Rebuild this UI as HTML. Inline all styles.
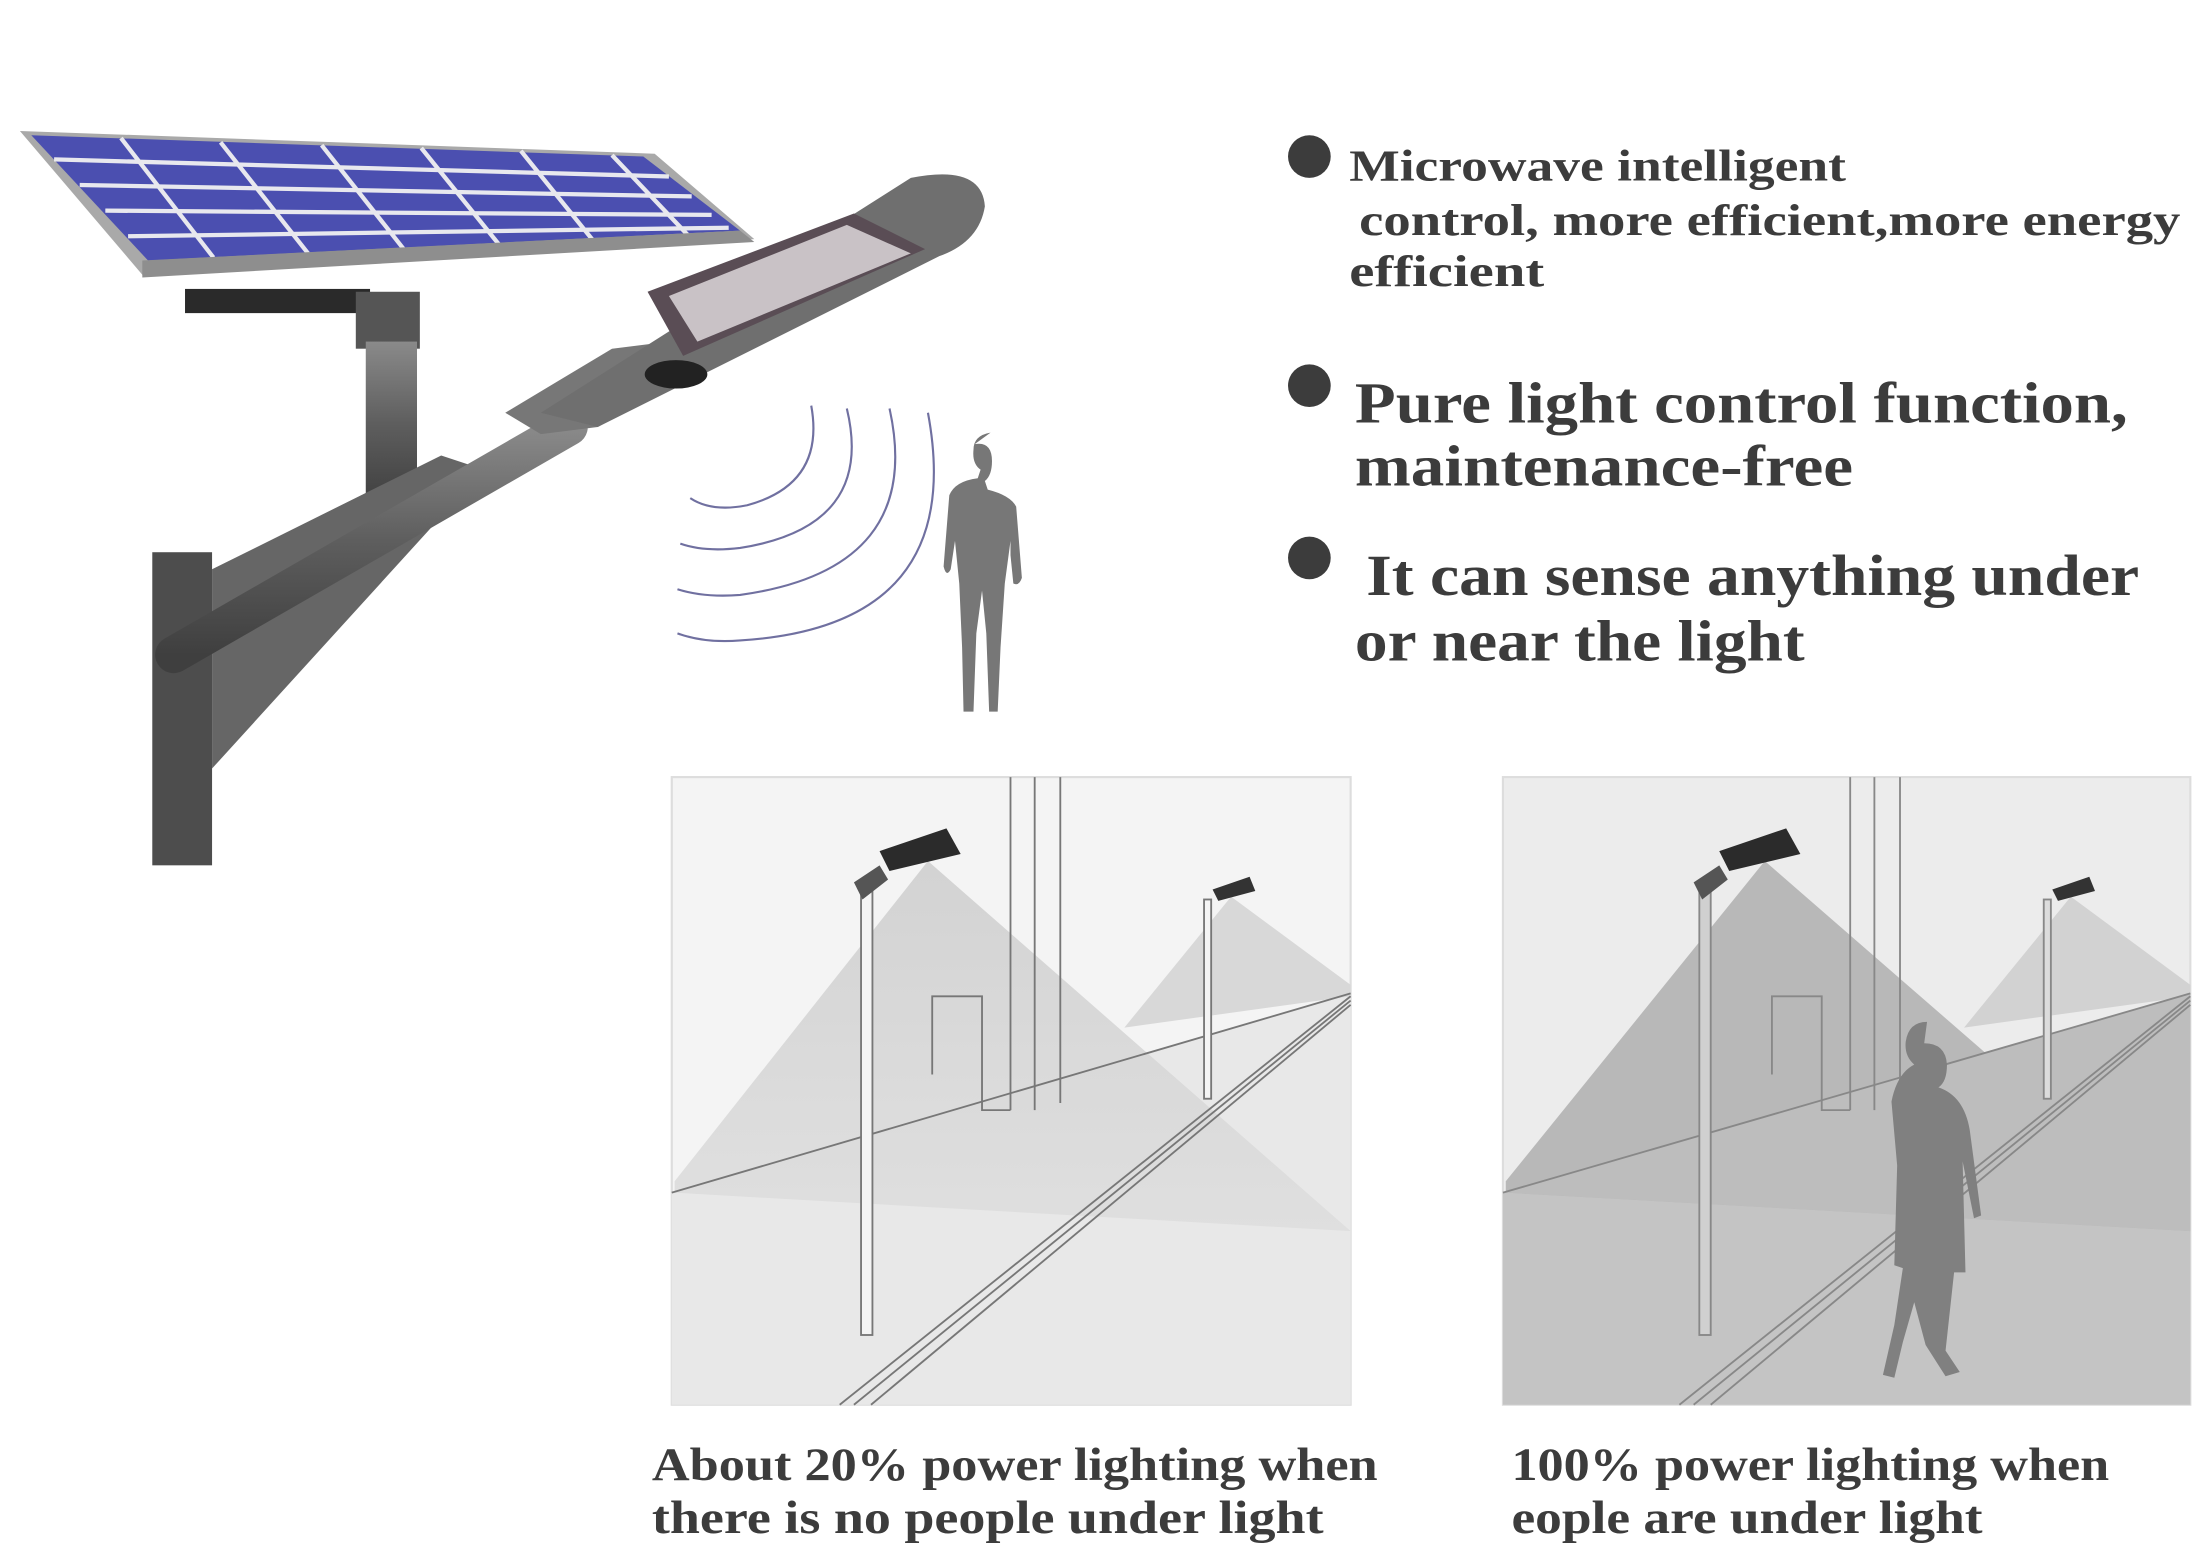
<!DOCTYPE html>
<html><head><meta charset="utf-8"><style>
html,body{margin:0;padding:0;background:#fff;}
svg{display:block;}
text{font-family:"Liberation Serif",serif;font-weight:bold;fill:#3c3c3c;}
</style></head><body>
<svg width="2206" height="1563" viewBox="0 0 1550 1098.2" xmlns="http://www.w3.org/2000/svg">
<defs>
<linearGradient id="pipe" x1="0" y1="0" x2="0" y2="1"><stop offset="0" stop-color="#8a8a8a"/><stop offset="0.5" stop-color="#5e5e5e"/><stop offset="1" stop-color="#3f3f3f"/></linearGradient>
<linearGradient id="cone1" x1="0" y1="0" x2="0" y2="1"><stop offset="0" stop-color="#cfcfcf"/><stop offset="1" stop-color="#dedede"/></linearGradient>
</defs>
<!-- solar panel -->
<polygon points="14,92 460,108 530,168 100,193" fill="#a9a9a9"/>
<polygon points="22,95 452,110 520,162 104,183" fill="#4b4fb0"/>
<g stroke="#e8e8ee" stroke-width="3">
<line x1="85" y1="97" x2="150" y2="181"/><line x1="155" y1="100" x2="218" y2="180"/><line x1="226" y1="102" x2="286" y2="178"/><line x1="296" y1="104" x2="354" y2="176"/><line x1="366" y1="106" x2="420" y2="173"/><line x1="430" y1="109" x2="486" y2="168"/>
<line x1="38" y1="112" x2="470" y2="124"/><line x1="56" y1="130" x2="486" y2="138"/><line x1="74" y1="148" x2="500" y2="151"/><line x1="90" y1="166" x2="512" y2="160"/>
</g>
<polygon points="100,183 520,162 530,170 100,195" fill="#8e8e8e"/>
<rect x="130" y="203" width="130" height="17" fill="#2a2a2a"/>
<!-- pole -->
<rect x="250" y="205" width="45" height="40" fill="#555"/>
<rect x="257" y="240" width="36" height="115" fill="url(#pipe)"/>
<!-- wall plate -->
<rect x="107" y="388" width="42" height="220" fill="#4d4d4d"/>
<polygon points="149,400 310,320 340,330 149,540" fill="#666"/>
<!-- arm -->
<line x1="122" y1="460" x2="400" y2="300" stroke="url(#pipe)" stroke-width="26" stroke-linecap="round"/>
<!-- lamp head -->
<polygon points="355,290 430,245 470,240 490,260 420,300 380,305" fill="#777"/>
<path d="M380,290 L640,125 Q690,115 692,145 Q688,170 660,180 L420,300 Z" fill="#6f6f6f"/>
<polygon points="455,205 600,150 650,175 480,250" fill="#5a4d55"/>
<polygon points="470,208 595,158 640,178 490,240" fill="#c9c2c6"/>
<ellipse cx="475" cy="263" rx="22" ry="10" fill="#222"/>
<!-- waves -->
<g fill="none" stroke="#7070a0" stroke-width="1.5">
<path d="M570,285 Q580,340 525,355 Q500,360 485,350"/>
<path d="M595,287 Q615,370 520,385 Q495,388 478,382"/>
<path d="M625,287 Q650,400 520,418 Q495,420 476,414"/>
<path d="M652,290 Q680,440 520,450 Q495,452 476,445"/>
</g>
<!-- person -->
<path d="M685,312 q12,-2 12,12 q0,10 -5,14 l2,6 q16,4 20,12 l4,50 q-2,6 -6,4 l-2,-20 l0,-10 l-4,30 l-3,45 l-2,45 l-6,0 l-2,-55 l-3,-30 l-4,30 l-2,55 l-7,0 l-1,-45 l-2,-45 l-3,-30 l-3,20 q-3,6 -5,-2 l4,-50 q4,-10 20,-12 l2,-6 q-6,-4 -5,-14 q0,-10 12,-12z" fill="#777"/>
<!-- left scene -->
<rect x="472" y="546" width="477" height="441" fill="#f4f4f4" stroke="#ddd" stroke-width="1.5"/>
<polygon points="472,838 949,698 949,987 472,987" fill="#e8e8e8"/>
<polygon points="652,605 474,830 474,838 949,865 949,865" fill="url(#cone1)" opacity="0.9"/>
<polygon points="865,630 790,722 949,700 949,692" fill="#d8d8d8"/>
<g stroke="#777" stroke-width="1.3" fill="none">
<line x1="710" y1="546" x2="710" y2="780"/><line x1="727" y1="546" x2="727" y2="780"/><line x1="745" y1="546" x2="745" y2="775"/>
<line x1="472" y1="838" x2="949" y2="698"/>
<polyline points="655,755 655,700 690,700 690,780 710,780"/>
<line x1="590" y1="987" x2="949" y2="700"/><line x1="600" y1="987" x2="949" y2="703"/><line x1="612" y1="987" x2="949" y2="706"/>
<rect x="605" y="625" width="8" height="313" fill="#f4f4f4"/>
<rect x="846" y="632" width="5" height="140" fill="#f4f4f4"/>
</g>
<polygon points="618,598 665,582 675,600 625,612" fill="#2b2b2b"/>
<polygon points="600,620 618,608 624,618 606,632" fill="#555"/>
<polygon points="852,625 878,616 882,626 856,633" fill="#333"/>
<!-- right scene -->
<rect x="1056" y="546" width="483" height="441" fill="#ececec" stroke="#ddd" stroke-width="1.5"/>
<polygon points="1056,838 1539,698 1539,987 1056,987" fill="#c4c4c4"/>
<polygon points="1240,605 1058,830 1058,838 1539,865 1539,865" fill="#b8b8b8"/>
<polygon points="1455,630 1380,722 1539,700 1539,692" fill="#d2d2d2"/>
<polygon points="1056,838 1539,698 1539,865 1058,838" fill="#bdbdbd"/>
<g stroke="#888" stroke-width="1.3" fill="none">
<line x1="1300" y1="546" x2="1300" y2="780"/><line x1="1317" y1="546" x2="1317" y2="780"/><line x1="1335" y1="546" x2="1335" y2="775"/>
<line x1="1056" y1="838" x2="1539" y2="698"/>
<polyline points="1245,755 1245,700 1280,700 1280,780 1300,780"/>
<line x1="1180" y1="987" x2="1539" y2="700"/><line x1="1190" y1="987" x2="1539" y2="703"/><line x1="1202" y1="987" x2="1539" y2="706"/>
<rect x="1194" y="625" width="8" height="313" fill="#d0d0d0"/>
<rect x="1436" y="632" width="5" height="140" fill="#dcdcdc"/>
</g>
<polygon points="1208,598 1255,582 1265,600 1215,612" fill="#2b2b2b"/>
<polygon points="1190,620 1208,608 1214,618 1196,632" fill="#555"/>
<polygon points="1442,625 1468,616 1472,626 1446,633" fill="#333"/>
<path d="M1352,733 q15,0 16,15 q0,12 -6,16 q18,6 22,30 l8,60 l-5,2 l-8,-40 l2,78 l-8,0 l-6,55 l10,15 l-10,3 l-14,-22 l-8,-30 l-8,28 l-6,25 l-8,-2 l8,-35 l6,-40 l-6,-2 l2,-70 l-4,-45 q4,-20 16,-26 q-7,-6 -6,-16 q2,-14 15,-14z" fill="#808080"/>
<!-- bullets -->
<g fill="#3c3c3c">
<circle cx="920" cy="110" r="15"/><circle cx="920" cy="271" r="15"/><circle cx="920" cy="392" r="15"/>
</g>
<text x="948" y="127" font-size="31" textLength="349" lengthAdjust="spacingAndGlyphs">Microwave intelligent</text>
<text x="955" y="165" font-size="31" textLength="577" lengthAdjust="spacingAndGlyphs">control, more efficient,more energy</text>
<text x="948" y="201" font-size="31" textLength="137" lengthAdjust="spacingAndGlyphs">efficient</text>
<text x="952" y="297" font-size="41" textLength="543" lengthAdjust="spacingAndGlyphs">Pure light control function,</text>
<text x="952" y="341" font-size="41" textLength="350" lengthAdjust="spacingAndGlyphs">maintenance-free</text>
<text x="960" y="418" font-size="41" textLength="543" lengthAdjust="spacingAndGlyphs">It can sense anything under</text>
<text x="952" y="464" font-size="41" textLength="316" lengthAdjust="spacingAndGlyphs">or near the light</text>
<text x="458" y="1040" font-size="33" textLength="510" lengthAdjust="spacingAndGlyphs">About 20% power lighting when</text>
<text x="458" y="1077" font-size="33" textLength="472" lengthAdjust="spacingAndGlyphs">there is no people under light</text>
<text x="1062" y="1040" font-size="33" textLength="420" lengthAdjust="spacingAndGlyphs">100% power lighting when</text>
<text x="1062" y="1077" font-size="33" textLength="331" lengthAdjust="spacingAndGlyphs">eople are under light</text>
</svg>
</body></html>
